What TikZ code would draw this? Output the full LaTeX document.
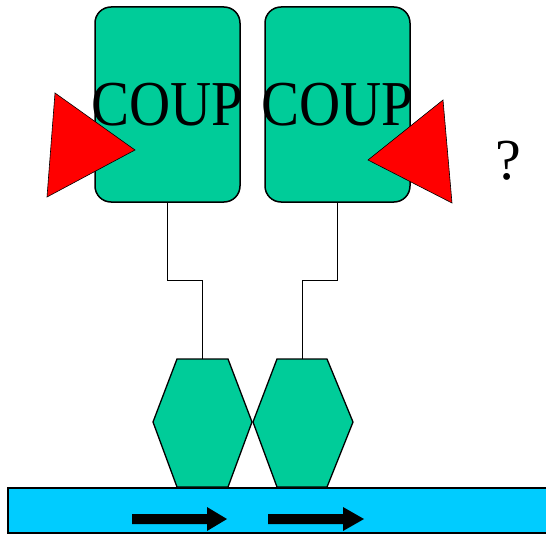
\documentclass[tikz,border=0pt]{standalone}
\usepackage{fontspec}
\setmainfont{Liberation Serif}
\definecolor{coupgreen}{HTML}{00CC99}
\definecolor{dnablue}{HTML}{00CCFF}
\definecolor{trired}{HTML}{FF0000}
\begin{document}
\begin{tikzpicture}[x=1pt,y=-1pt,
  coupbox/.style={draw=black,line width=1.5pt,fill=coupgreen,rounded corners=16pt,
    minimum width=145pt,minimum height=195pt,inner sep=0pt,
    font=\fontsize{64}{64}\selectfont},
  wire/.style={draw=black,line width=1pt},
  hexa/.style={draw=black,line width=1.3pt,fill=coupgreen},
  tri/.style={draw=black,line width=0.6pt,fill=trired},
  arrowshape/.style={fill=black}]
\useasboundingbox (0,0) rectangle (546,535);
% DNA bar
\fill[dnablue] (8,488) rectangle (546,533);
\draw[line width=1.3pt] (546,488) -- (8,488) -- (8,533) -- (546,533);
% COUP boxes
\node[coupbox] (boxL) at (167.5,104.5) {\makebox[0pt]{\raisebox{-2pt}{\scalebox{0.89}[1]{COUP}}}};
\node[coupbox] (boxR) at (337.5,104.5) {\makebox[0pt]{\raisebox{-2pt}{\scalebox{0.89}[1]{COUP}}}};
% triangles
\draw[tri] (55,93) -- (47,197) -- (135,150) -- cycle;
\draw[tri] (443,100) -- (452,203) -- (368,160) -- cycle;
% question mark
\node[font=\fontsize{58}{58}\selectfont] (q) at (508,161) {?};
% hexagons
\coordinate (hexLtop) at (202.5,359);
\coordinate (hexRtop) at (302.5,359);
\draw[hexa] (177,359) -- (228,359) -- (252,422) -- (228,487) -- (177,487) -- (153,422) -- cycle;
\draw[hexa] (277,359) -- (327,359) -- (353,422) -- (327,487) -- (277,487) -- (253,422) -- cycle;
% connectors
\coordinate (bendL) at (202.5,280);
\coordinate (bendR) at (302.5,280);
\draw[wire] (boxL.south) |- (bendL) -- (hexLtop);
\draw[wire] (boxR.south) |- (bendR) -- (hexRtop);
% arrows on DNA
\fill[arrowshape] (132,514) -- (207,514) -- (207,507) -- (227,519) -- (207,531) -- (207,524) -- (132,524) -- cycle;
\fill[arrowshape] (268,514) -- (343,514) -- (343,507) -- (364,519) -- (343,531) -- (343,524) -- (268,524) -- cycle;
\end{tikzpicture}
\end{document}
